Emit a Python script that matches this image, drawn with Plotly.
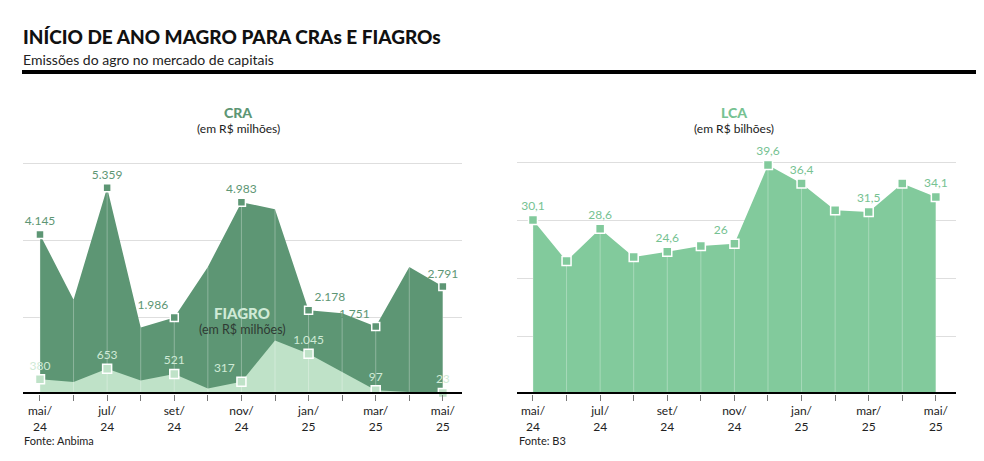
import plotly.graph_objects as go

# monthly data, mai/24 .. mai/25
months = ["mai/24", "jun/24", "jul/24", "ago/24", "set/24", "out/24", "nov/24",
          "dez/24", "jan/25", "fev/25", "mar/25", "abr/25", "mai/25"]
cra = [4145, 2450, 5359, 1730, 1986, 3300, 4983, 4800, 2178, 2100, 1751, 3300, 2791]
fiagro = [380, 310, 653, 350, 521, 140, 317, 1390, 1045, 560, 97, 50, 23]
lca = [30.1, 23.0, 28.6, 23.7, 24.6, 25.6, 26.0, 39.6, 36.4, 31.8, 31.5, 36.4, 34.1]

cra_gridvals = [2000, 4000, 6000]
lca_gridvals = [10, 20, 30, 40]
lca_labelled = [0, 2, 4, 6, 7, 8, 10, 12]

# the page body has an 8px margin, so the figure is drawn 8px in from the corner
PAGE_MARGIN = 8
W, H = 984 - PAGE_MARGIN, 461 - PAGE_MARGIN
CRA_GREEN = "#5d9674"
FIAGRO_GREEN = "#bfe2c8"
LCA_GREEN = "#82ca9c"
FONT = "Lato"


def px_x(x):
    return (x - PAGE_MARGIN) / W


def px_y(y):
    return 1 - (y - PAGE_MARGIN) / H


def thousands(v):
    return f"{v:,}".replace(",", ".")


def decimal(v):
    return f"{v:g}".replace(".", ",")


idx = list(range(len(months)))
even = idx[::2]
tick_text = [m.replace("/", "/<br>") if i % 2 == 0 else "" for i, m in enumerate(months)]

fig = go.Figure()

# ---- left panel: CRA + FIAGRO
fig.add_trace(go.Scatter(x=idx, y=cra, mode="lines", line=dict(width=0, color=CRA_GREEN),
                         fill="tozeroy", fillcolor=CRA_GREEN, hoverinfo="skip"))
fig.add_trace(go.Scatter(x=idx, y=fiagro, mode="lines", line=dict(width=0, color=FIAGRO_GREEN),
                         fill="tozeroy", fillcolor=FIAGRO_GREEN, hoverinfo="skip"))
vx, vy = [], []
for i, v in zip(idx, cra):
    vx += [i, i, None]
    vy += [0, v, None]
fig.add_trace(go.Scatter(x=vx, y=vy, mode="lines", line=dict(width=1, color="rgba(255,255,255,0.3)"),
                         hoverinfo="skip"))
cra_pos = ["top center", "top center", "top left", "top center", "top right", "top left", "top center"]
fig.add_trace(go.Scatter(
    x=even, y=[cra[i] for i in even], mode="markers+text",
    text=[thousands(cra[i]) for i in even], textposition=cra_pos,
    textfont=dict(family=FONT, size=12, color=CRA_GREEN),
    marker=dict(symbol="square", size=8, color=CRA_GREEN, line=dict(color="white", width=1.5)),
    cliponaxis=False))
fig.add_trace(go.Scatter(
    x=even, y=[fiagro[i] for i in even], mode="markers+text",
    text=[thousands(fiagro[i]) for i in even],
    textposition=["top center", "top center", "top center", "top left", "top center", "top center", "top center"],
    textfont=dict(family=FONT, size=12, color="#cfead6"),
    marker=dict(symbol="square", size=9, color=FIAGRO_GREEN, line=dict(color="white", width=1.5)),
    cliponaxis=False))

# ---- right panel: LCA
fig.add_trace(go.Scatter(x=idx, y=lca, mode="lines", line=dict(width=0, color=LCA_GREEN),
                         fill="tozeroy", fillcolor=LCA_GREEN, hoverinfo="skip",
                         xaxis="x2", yaxis="y2"))
lx, ly = [], []
for i, v in zip(idx, lca):
    lx += [i, i, None]
    ly += [0, v, None]
fig.add_trace(go.Scatter(x=lx, y=ly, mode="lines", line=dict(width=1, color="rgba(255,255,255,0.3)"),
                         hoverinfo="skip", xaxis="x2", yaxis="y2"))
lca_pos = ["top center"] * len(idx)
lca_pos[6] = "top left"
fig.add_trace(go.Scatter(
    x=idx, y=lca, mode="markers+text",
    text=[decimal(v) if i in lca_labelled else "" for i, v in enumerate(lca)],
    textposition=lca_pos,
    textfont=dict(family=FONT, size=12, color="#76c292"),
    marker=dict(symbol="square", size=9, color=LCA_GREEN, line=dict(color="white", width=1.5)),
    cliponaxis=False, xaxis="x2", yaxis="y2"))

xaxis_common = dict(tickmode="array", tickvals=idx, ticktext=tick_text, ticks="outside",
                    ticklen=6, tickcolor="#777", tickwidth=1, showgrid=False, zeroline=False,
                    showline=False, tickfont=dict(family=FONT, size=12, color="#222"), fixedrange=True)
yaxis_common = dict(tickmode="array", showticklabels=False, showgrid=True, gridcolor="#dedede",
                    gridwidth=1, zeroline=False, showline=False, fixedrange=True)

y_dom = [px_y(394), px_y(150)]
fig.update_layout(
    width=W, height=H, margin=dict(l=0, r=0, t=0, b=0),
    paper_bgcolor="white", plot_bgcolor="white", showlegend=False,
    font=dict(family=FONT, color="#222"),
    xaxis=dict(domain=[px_x(23), px_x(462)], range=[-0.506, 12.57], **xaxis_common),
    yaxis=dict(domain=y_dom, range=[0, (394 - 150) / 0.0385], tickvals=cra_gridvals, **yaxis_common),
    xaxis2=dict(domain=[px_x(517), px_x(956)], range=[-0.476, 12.6], anchor="y2", **xaxis_common),
    yaxis2=dict(domain=y_dom, range=[0, (394 - 150) / 5.78], tickvals=lca_gridvals, anchor="x2",
                **yaxis_common),
)

# baselines and header rule
for xr, yr in [("x domain", "y"), ("x2 domain", "y2")]:
    fig.add_shape(type="line", xref=xr, yref=yr, x0=0, x1=1, y0=0, y1=0,
                  line=dict(color="black", width=4))
fig.add_shape(type="line", xref="paper", yref="paper", x0=px_x(22), x1=1, y0=px_y(72), y1=px_y(72),
              line=dict(color="black", width=4))


def note(text, x, y, size, color="#222", weight="normal", xanchor="center"):
    fig.add_annotation(text=text, x=px_x(x), y=px_y(y),
                       xref="paper", yref="paper", xanchor=xanchor, yanchor="middle",
                       showarrow=False, font=dict(family=FONT, size=size, color=color, weight=weight))


note("INÍCIO DE ANO MAGRO PARA CRAs E FIAGROs", 21, 37, 19, color="#111", weight=900, xanchor="left")
note("Emissões do agro no mercado de capitais", 21, 59, 14, xanchor="left")
note("CRA", 238, 112, 14, color=CRA_GREEN, weight=900)
note("(em R$ milhões)", 238, 128, 12)
note("LCA", 734, 112, 14, color="#76c292", weight=900)
note("(em R$ bilhões)", 734, 128, 12)
note("FIAGRO", 242, 313, 15, color="#cfead6", weight=900)
note("(em R$ milhões)", 242, 329, 12.5, color="#2f3a33")
note("Fonte: Anbima", 22, 440, 11, xanchor="left")
note("Fonte: B3", 517, 440, 11, xanchor="left")

fig.write_html("out.html")
